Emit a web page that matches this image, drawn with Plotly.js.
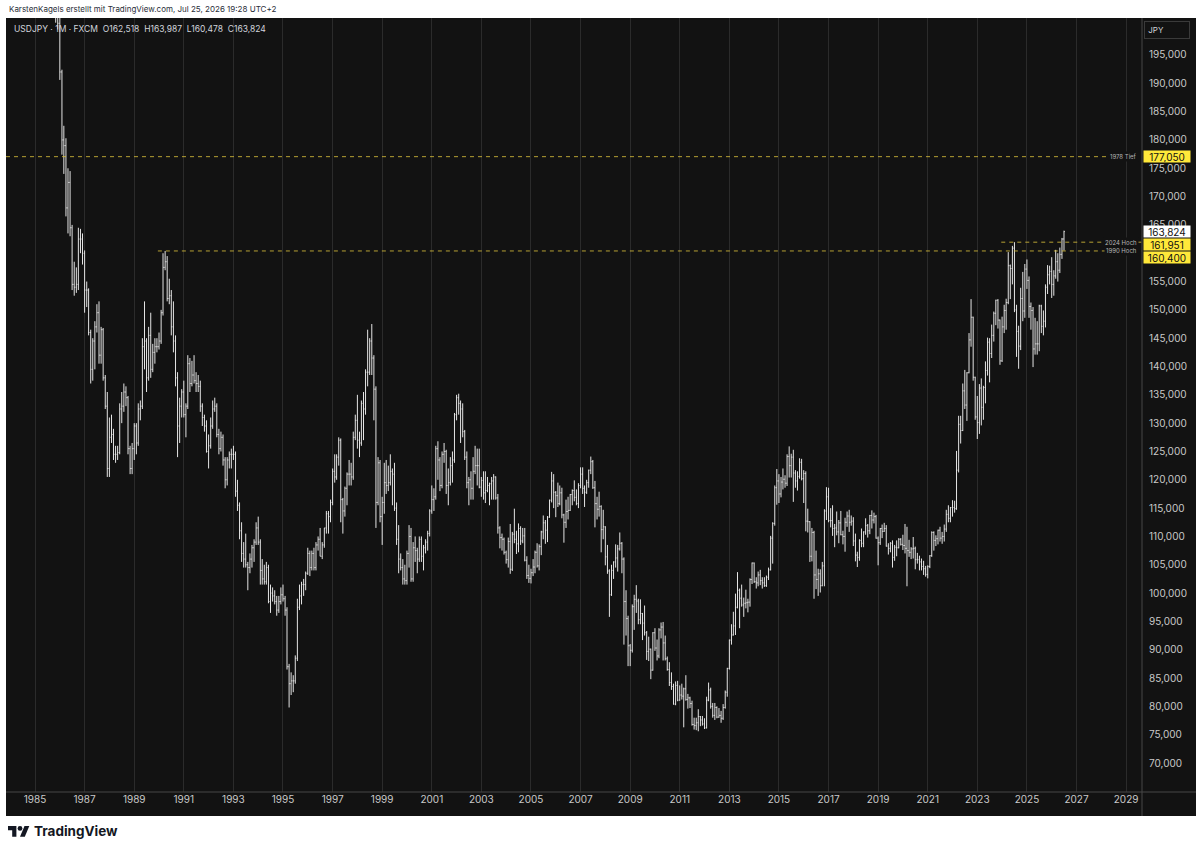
<!DOCTYPE html>
<html><head><meta charset="utf-8">
<script src="https://cdn.plot.ly/plotly-3.0.1.min.js"></script>
<style>html,body{margin:0;padding:0;background:#fff;}#chart{width:1200px;height:853px;}</style>
</head><body><div id="chart"></div>
<script>
// ---------- DATA (monthly USDJPY, first bar Nov 1985) ----------
const startYear = 1985, startMonth = 11;
const open = [
211.5,201.9,
200.6,192.0,180.0,179.0,168.0,172.5,164.5,154.5,154.0,154.5,162.5,162.5,
160.0,153.5,153.5,146.0,139.5,144.5,147.0,149.5,142.0,146.5,138.0,133.0,
122.0,127.5,128.0,124.5,124.5,124.8,132.5,133.0,135.5,134.5,125.5,122.0,
125.5,129.5,126.5,132.5,133.0,143.5,144.5,138.0,145.5,139.5,142.5,143.5,
143.5,144.5,149.5,157.5,158.5,152.0,152.5,147.0,144.5,138.0,129.5,133.0,
135.5,131.5,133.0,140.5,137.0,138.5,137.5,137.0,136.5,133.0,131.0,129.5,
125.0,126.0,129.5,132.5,133.0,128.0,125.5,127.5,123.5,120.0,123.5,124.5,
124.5,124.5,118.0,115.5,111.0,107.0,106.0,105.0,104.5,106.0,108.0,109.0,
111.5,109.0,104.0,102.5,102.0,104.5,98.5,100.0,99.5,98.5,97.0,98.5,
99.7,99.0,97.0,87.0,84.0,84.5,84.5,88.5,97.5,99.5,101.5,101.5,
103.5,107.0,104.5,107.0,104.5,108.5,109.5,106.5,108.5,111.5,114.0,113.5,
116.0,121.5,120.5,124.0,127.0,116.5,114.5,118.5,121.0,121.0,120.5,127.5,
130.5,127.0,126.5,133.5,132.5,139.0,139.0,144.5,141.5,136.0,116.0,123.0,
113.5,116.0,119.5,119.0,119.5,121.5,121.0,115.0,109.5,106.0,104.5,102.5,
102.2,107.0,110.0,102.5,108.0,107.5,106.0,109.5,106.5,108.0,109.0,110.5,
114.5,116.5,117.0,125.5,123.5,119.0,124.5,125.0,119.0,119.5,122.5,123.5,
131.5,134.5,133.5,132.5,128.5,124.0,119.5,120.0,118.5,121.5,122.5,122.5,
118.7,119.9,117.7,118.1,119.0,119.3,119.8,120.5,116.8,111.5,109.8,109.5,
107.2,105.9,109.1,104.2,110.4,109.5,108.7,111.4,109.2,110.1,105.8,103.1,
102.6,103.6,104.6,107.2,104.8,108.2,110.8,112.4,111.1,113.4,116.4,119.8,
117.8,117.2,115.8,117.7,113.8,112.5,114.4,114.6,117.4,118.1,116.9,115.8,
119.0,121.0,118.5,117.8,119.5,121.7,123.2,118.6,115.8,114.8,115.3,111.2,
111.7,106.4,103.9,99.7,104.0,105.5,106.2,107.8,108.8,106.0,98.5,95.5,
90.7,89.9,97.6,98.9,98.6,95.3,96.4,94.7,93.0,89.7,90.1,86.4,
93.0,90.3,88.9,93.5,94.0,91.2,88.4,86.5,84.2,83.5,80.4,83.7,
81.1,82.0,81.8,83.1,81.2,81.5,80.5,76.8,76.6,77.1,78.2,77.6,
76.9,76.2,81.1,82.9,80.0,78.4,79.8,78.1,78.4,77.9,79.8,82.5,
86.7,91.7,92.6,94.2,97.5,100.5,99.1,97.9,98.2,98.3,98.4,102.4,
105.3,102.0,101.8,103.2,102.2,101.8,101.3,102.8,104.1,109.7,112.3,118.6,
119.8,117.5,119.6,120.1,119.4,124.1,122.5,124.0,121.2,119.8,120.6,123.1,
120.2,121.1,112.7,112.6,106.5,110.7,103.2,102.4,103.4,101.3,104.8,114.5,
117.0,112.8,112.8,111.4,111.5,110.8,112.4,110.3,110.0,112.5,113.6,112.5,
112.7,109.2,106.7,106.3,109.3,108.8,110.8,111.9,111.0,113.7,112.9,113.5,
109.7,108.9,111.4,110.9,111.4,108.3,107.9,108.8,106.3,108.1,108.0,109.5,
108.6,108.4,107.9,107.5,107.2,107.8,107.9,105.9,105.9,105.5,104.7,104.3,
103.3,104.7,106.6,110.7,109.3,109.6,111.1,109.7,110.0,111.3,113.9,113.2,
115.1,115.1,114.9,121.7,129.8,128.7,135.7,133.2,138.9,144.7,148.7,138.1,
131.1,130.1,136.2,132.8,136.3,139.3,144.3,142.3,145.5,149.4,151.7,148.2,
141.0,147.0,149.9,151.3,157.8,157.3,160.9,150.0,146.2,143.6,152.0,149.8,
157.2,155.2,150.6,149.9,143.1,144.0,144.0,150.7,147.1,148.0,154.0,156.2,
156.8,154.5,156.0,158.5,157.0,159.8,162.518
];
const high = [
212.0,204.2,
203.0,192.4,182.5,180.3,175.0,174.5,165.0,158.5,157.5,164.5,164.3,163.5,
160.5,155.0,153.8,146.5,145.0,148.0,151.0,151.5,147.0,146.8,138.5,135.5,
131.0,131.5,129.0,126.0,126.0,133.5,135.5,137.0,136.5,134.8,126.0,126.5,
130.0,130.0,133.5,134.0,145.0,151.5,145.0,147.0,149.5,144.0,145.0,145.0,
146.0,150.0,160.0,160.4,159.5,155.5,153.5,151.5,145.5,139.0,134.5,136.0,
137.5,133.5,142.0,141.5,141.0,142.0,139.0,138.5,137.5,133.5,131.5,130.5,
128.0,131.0,134.0,134.5,133.5,129.0,128.5,128.0,124.0,124.0,125.0,125.5,
126.0,125.0,120.0,116.0,112.5,109.0,110.5,105.5,107.0,108.5,109.5,112.5,
113.5,109.5,106.0,105.0,105.5,105.0,101.5,101.0,100.5,99.5,99.5,101.0,
101.5,99.5,97.5,87.5,86.0,85.5,89.0,99.0,101.5,102.0,102.5,103.8,
108.0,107.5,107.5,108.0,109.0,110.0,111.5,109.0,111.5,114.5,114.5,116.5,
122.0,124.5,124.5,127.5,127.3,116.8,118.8,121.3,123.5,123.0,128.5,131.5,
135.0,128.5,134.0,135.5,139.5,146.5,145.0,147.5,142.0,136.5,124.0,123.5,
117.0,123.0,123.5,122.5,124.5,122.0,123.0,116.0,112.0,107.0,106.0,105.0,
107.5,112.0,111.5,109.0,110.0,108.0,110.0,110.0,108.5,109.5,111.0,114.8,
119.0,118.5,126.0,126.8,124.0,125.0,126.5,125.3,122.0,124.0,125.0,131.8,
135.0,135.2,134.0,133.5,128.8,125.0,120.5,121.5,124.0,126.0,125.5,125.5,
120.5,121.5,121.5,120.5,119.5,120.5,121.0,120.6,117.5,111.8,110.5,109.8,
107.5,109.8,112.2,110.8,114.9,111.0,112.3,111.8,111.5,111.5,106.5,105.0,
104.3,106.0,107.5,108.8,108.6,111.0,113.7,112.9,113.6,116.5,121.4,121.0,
118.0,119.5,119.0,118.6,114.0,116.5,117.0,117.5,118.3,119.9,118.3,119.4,
122.2,122.2,119.0,120.0,121.8,124.1,123.5,119.8,117.0,117.9,115.5,114.7,
111.8,108.5,104.2,105.0,105.6,108.6,108.5,110.7,109.0,106.3,100.5,96.0,
91.0,98.0,99.7,101.4,99.0,98.9,96.5,97.8,93.3,92.3,90.2,93.1,
93.8,91.8,93.8,94.8,94.9,92.5,88.8,87.8,86.0,84.0,84.4,84.5,
83.7,84.0,83.3,85.5,82.2,81.7,81.0,78.0,78.0,79.5,78.3,78.3,
77.9,81.7,84.2,83.3,80.6,80.6,80.0,79.7,79.2,80.4,82.8,86.8,
91.8,94.5,96.7,99.9,103.7,100.8,101.5,99.2,100.6,99.0,102.6,105.4,
105.4,102.8,103.8,104.1,102.8,102.8,103.1,104.5,110.1,112.5,119.0,121.9,
121.0,120.5,122.0,120.8,124.5,125.9,124.6,125.3,121.7,121.5,123.8,123.7,
121.7,121.5,114.9,112.7,111.5,111.0,107.5,104.3,104.2,105.5,114.8,118.7,
118.6,115.0,115.5,112.2,114.4,112.9,114.5,111.0,113.3,114.4,114.7,113.7,
113.4,110.5,107.3,109.5,111.4,110.9,113.2,112.2,113.8,114.6,114.2,113.8,
110.0,111.5,112.1,112.4,112.0,108.8,109.0,109.3,108.5,109.3,109.7,109.7,
110.3,112.2,111.7,109.4,108.1,109.9,108.2,107.1,106.6,106.1,105.7,104.8,
104.9,106.7,110.9,110.9,110.2,111.2,111.7,110.8,112.1,114.7,115.5,115.2,
116.4,116.3,125.1,131.3,131.3,137.0,139.4,139.0,145.9,151.9,148.8,138.2,
134.8,136.9,137.9,136.6,140.9,145.1,145.0,147.4,149.7,151.8,151.9,148.3,
148.8,150.9,151.97,160.2,158.0,161.3,161.95,150.9,147.2,153.9,156.7,158.1,
158.9,155.9,151.3,150.5,148.6,148.0,150.9,150.9,149.9,154.5,157.9,157.8,
159.3,157.0,160.6,160.0,161.0,162.7,163.987
];
const low = [
200.7,199.5,
190.6,177.4,174.0,166.5,163.5,163.0,153.5,152.5,153.0,153.5,160.0,158.0,
149.5,150.5,145.5,137.0,137.5,139.5,146.0,140.5,140.5,137.5,132.5,120.5,
120.5,126.5,123.5,123.0,123.5,124.5,130.0,132.0,133.0,124.5,121.0,121.0,
123.5,124.5,126.0,130.5,132.5,139.5,135.5,137.5,138.0,139.0,140.5,142.5,
143.0,144.0,149.0,157.0,151.5,151.0,145.5,142.5,136.5,124.0,126.5,131.0,
131.0,127.5,132.5,135.5,136.5,137.0,135.5,135.5,132.0,129.5,128.5,124.8,
122.0,125.5,129.0,132.0,127.5,124.5,125.0,122.5,118.5,119.0,122.0,122.0,
123.5,117.0,114.5,109.5,105.5,104.5,104.5,100.5,103.5,104.5,105.5,108.5,
108.5,101.5,101.5,101.5,101.5,98.2,96.5,98.5,98.0,96.0,96.5,98.0,
98.5,96.0,86.5,79.8,82.0,82.5,84.0,88.0,97.0,98.0,99.5,100.5,
103.2,103.0,104.0,104.0,104.0,107.5,106.5,106.0,108.0,110.5,110.5,112.5,
115.5,119.5,120.0,122.5,112.5,110.5,113.5,115.5,119.0,119.0,120.0,127.0,
125.5,124.0,126.0,127.0,131.5,136.5,138.5,138.5,130.5,111.5,115.5,112.5,
108.5,114.0,117.5,118.0,119.0,115.5,114.5,108.5,103.5,104.0,101.5,101.5,
101.5,104.5,102.0,102.0,105.5,103.5,105.5,105.5,104.0,107.0,107.5,110.0,
114.0,114.5,116.5,120.0,118.0,118.5,123.0,117.5,115.5,119.0,119.5,123.0,
130.5,131.5,126.5,127.5,123.5,118.5,115.5,116.5,116.5,121.0,119.0,118.5,
117.0,116.5,115.9,117.8,115.5,116.5,116.5,116.5,110.5,107.9,107.5,106.8,
105.2,104.5,103.4,103.9,108.8,106.9,107.2,108.5,108.8,105.6,102.5,101.8,
101.7,103.0,103.5,104.5,104.0,106.7,109.5,108.7,109.0,113.3,116.0,115.0,
113.4,115.2,115.5,113.2,108.9,111.5,113.0,114.5,115.5,116.2,115.5,115.0,
118.5,117.5,115.2,117.5,118.6,121.0,118.4,111.6,113.0,113.5,107.2,109.5,
104.9,103.4,95.8,99.5,102.5,104.5,103.8,107.5,103.5,90.9,92.5,87.1,
87.1,89.5,93.5,96.5,94.5,94.5,91.7,92.5,88.2,88.0,84.8,86.3,
89.8,88.1,88.5,92.0,88.1,88.1,86.3,83.6,82.9,80.3,80.2,80.9,
81.0,81.2,76.3,81.0,79.6,79.7,76.6,75.9,75.8,75.6,76.5,76.6,
76.0,76.1,80.9,79.6,78.0,77.6,77.9,78.0,77.1,77.6,79.6,81.7,
86.5,90.9,92.5,92.6,97.3,93.8,97.6,95.8,97.3,96.6,97.6,101.6,
101.8,100.8,101.2,101.4,100.8,101.1,101.1,102.3,104.0,105.2,111.9,115.6,
115.9,116.9,118.3,118.6,118.9,120.4,120.4,116.1,118.6,118.1,120.2,119.9,
115.9,110.9,110.7,105.5,105.6,99.0,100.7,99.5,100.1,101.2,101.2,112.9,
112.5,111.6,110.1,108.1,110.2,108.8,110.2,108.6,107.3,111.7,110.8,111.9,
108.3,105.6,104.6,105.7,108.1,108.1,110.3,109.8,110.4,111.4,112.3,109.6,
104.9,108.5,109.7,110.8,108.2,106.8,107.2,104.5,105.7,106.5,107.9,108.4,
107.6,107.0,101.2,106.4,106.0,106.1,104.2,105.2,104.0,104.0,103.2,102.9,
102.6,104.4,106.4,107.5,108.3,108.6,109.1,108.7,109.1,110.8,112.5,112.5,
113.5,114.2,114.7,121.3,126.4,128.6,132.5,130.4,138.8,143.5,137.5,130.6,
127.2,128.1,129.6,130.6,133.5,138.4,137.2,141.5,144.4,147.3,146.7,140.3,
140.8,145.9,146.5,151.0,151.9,154.5,149.6,141.7,139.6,142.9,148.0,148.6,
153.7,148.6,146.5,139.9,142.1,142.1,142.7,145.9,145.5,146.9,152.8,154.5,
152.1,152.5,155.5,155.0,156.5,159.0,160.478
];
const close = [
201.9,200.6,
192.0,180.0,179.0,168.0,172.5,164.5,154.5,154.0,154.5,162.5,162.5,160.0,
153.5,153.5,146.0,139.5,144.5,147.0,149.5,142.0,146.5,138.0,133.0,122.0,
127.5,128.0,124.5,124.5,124.8,132.5,133.0,135.5,134.5,125.5,122.0,125.5,
129.5,126.5,132.5,133.0,143.5,144.5,138.0,145.5,139.5,142.5,143.5,143.5,
144.5,149.5,157.5,158.5,152.0,152.5,147.0,144.5,138.0,129.5,133.0,135.5,
131.5,133.0,140.5,137.0,138.5,137.5,137.0,136.5,133.0,131.0,129.5,125.0,
126.0,129.5,132.5,133.0,128.0,125.5,127.5,123.5,120.0,123.5,124.5,124.5,
124.5,118.0,115.5,111.0,107.0,106.0,105.0,104.5,106.0,108.0,109.0,111.5,
109.0,104.0,102.5,102.0,104.5,98.5,100.0,99.5,98.5,97.0,98.5,99.7,
99.0,97.0,87.0,84.0,84.5,84.5,88.5,97.5,99.5,101.5,101.5,103.5,
107.0,104.5,107.0,104.5,108.5,109.5,106.5,108.5,111.5,114.0,113.5,116.0,
121.5,120.5,124.0,127.0,116.5,114.5,118.5,121.0,121.0,120.5,127.5,130.5,
127.0,126.5,133.5,132.5,139.0,139.0,144.5,141.5,136.0,116.0,123.0,113.5,
116.0,119.5,119.0,119.5,121.5,121.0,115.0,109.5,106.0,104.5,102.5,102.2,
107.0,110.0,102.5,108.0,107.5,106.0,109.5,106.5,108.0,109.0,110.5,114.5,
116.5,117.0,125.5,123.5,119.0,124.5,125.0,119.0,119.5,122.5,123.5,131.5,
134.5,133.5,132.5,128.5,124.0,119.5,120.0,118.5,121.5,122.5,122.5,118.7,
119.9,117.7,118.1,119.0,119.3,119.8,120.5,116.8,111.5,109.8,109.5,107.2,
105.9,109.1,104.2,110.4,109.5,108.7,111.4,109.2,110.1,105.8,103.1,102.6,
103.6,104.6,107.2,104.8,108.2,110.8,112.4,111.1,113.4,116.4,119.8,117.8,
117.2,115.8,117.7,113.8,112.5,114.4,114.6,117.4,118.1,116.9,115.8,119.0,
121.0,118.5,117.8,119.5,121.7,123.2,118.6,115.8,114.8,115.3,111.2,111.7,
106.4,103.9,99.7,104.0,105.5,106.2,107.8,108.8,106.0,98.5,95.5,90.7,
89.9,97.6,98.9,98.6,95.3,96.4,94.7,93.0,89.7,90.1,86.4,93.0,
90.3,88.9,93.5,94.0,91.2,88.4,86.5,84.2,83.5,80.4,83.7,81.1,
82.0,81.8,83.1,81.2,81.5,80.5,76.8,76.6,77.1,78.2,77.6,76.9,
76.2,81.1,82.9,80.0,78.4,79.8,78.1,78.4,77.9,79.8,82.5,86.7,
91.7,92.6,94.2,97.5,100.5,99.1,97.9,98.2,98.3,98.4,102.4,105.3,
102.0,101.8,103.2,102.2,101.8,101.3,102.8,104.1,109.7,112.3,118.6,119.8,
117.5,119.6,120.1,119.4,124.1,122.5,124.0,121.2,119.8,120.6,123.1,120.2,
121.1,112.7,112.6,106.5,110.7,103.2,102.4,103.4,101.3,104.8,114.5,117.0,
112.8,112.8,111.4,111.5,110.8,112.4,110.3,110.0,112.5,113.6,112.5,112.7,
109.2,106.7,106.3,109.3,108.8,110.8,111.9,111.0,113.7,112.9,113.5,109.7,
108.9,111.4,110.9,111.4,108.3,107.9,108.8,106.3,108.1,108.0,109.5,108.6,
108.4,107.9,107.5,107.2,107.8,107.9,105.9,105.9,105.5,104.7,104.3,103.3,
104.7,106.6,110.7,109.3,109.6,111.1,109.7,110.0,111.3,113.9,113.2,115.1,
115.1,114.9,121.7,129.8,128.7,135.7,133.2,138.9,144.7,148.7,138.1,131.1,
130.1,136.2,132.8,136.3,139.3,144.3,142.3,145.5,149.4,151.7,148.2,141.0,
147.0,149.9,151.3,157.8,157.3,160.9,150.0,146.2,143.6,152.0,149.8,157.2,
155.2,150.6,149.9,143.1,144.0,144.0,150.7,147.1,148.0,154.0,156.2,156.8,
154.5,156.0,158.5,157.0,159.8,162.5,163.824
];

const xTickYears = [1985,1987,1989,1991,1993,1995,1997,1999,2001,2003,2005,2007,2009,2011,2013,2015,2017,2019,2021,2023,2025,2027,2029];
const xTickText = ['1985','1987','1989','1991','1993','1995','1997','1999','2001','2003','2005','2007','2009','2011','2013','2015','2017','2019','2021','2023','2025','2027','2029'];
const yTickVals = [70,75,80,85,90,95,100,105,110,115,120,125,130,135,140,145,150,155,160,165,170,175,180,185,190,195];
// 160,000 is fully hidden behind the price tags in the reference
const yTickText = ['70,000','75,000','80,000','85,000','90,000','95,000','100,000','105,000','110,000','115,000','120,000','125,000','130,000','135,000','140,000','145,000','150,000','155,000','','165,000','170,000','175,000','180,000','185,000','190,000','195,000'];

const levelNames  = ['1978 Tief','2024 Hoch','1990 Hoch'];
const levelValues = [177.05, 161.951, 160.4];
const levelStart  = [null, '2023-12-20', '1989-12-15'];
const levelTags   = ['177,050','161,951','160,400'];
const lastPrice = 163.824, lastPriceTag = '163,824';
const headerText = 'USDJPY · 1M · FXCM\u00a0\u00a0O162,518\u00a0\u00a0H163,987\u00a0\u00a0L160,478\u00a0\u00a0C163,824';
const creditText = 'KarstenKagels erstellt mit TradingView.com, Jul 25, 2026 19:28 UTC+2';

// ---------- build ----------
const dates = open.map((_, i) => {
  const k = startMonth - 1 + i;
  const y = startYear + Math.floor(k / 12), m = k % 12 + 1;
  return y + '-' + String(m).padStart(2, '0') + '-01';
});
const xTickVals = xTickYears.map(y => y + '-01-01');

const L = 6, R = 1142, T = 18, B = 792;      // plot area in pixels
const PX = x => (x - L) / (R - L);
const PY = y => (B - y) / (B - T);
const FONT = 'Inter, "Noto Sans", Roboto, sans-serif';
const X_END = '2029-08-23';
const PANEL = '#121212';

const trace = {
  type: 'ohlc', x: dates, open: open, high: high, low: low, close: close,
  increasing: {line: {color: '#e4e4e4', width: 1}},
  decreasing: {line: {color: '#e4e4e4', width: 1}},
  tickwidth: 0.4, hoverinfo: 'skip'
};

const shapes = [
  {type:'rect', xref:'paper', yref:'paper', x0:PX(6), x1:PX(1196), y0:PY(816), y1:PY(18),
   fillcolor:PANEL, line:{width:0}, layer:'below'},
  {type:'line', xref:'paper', yref:'paper', x0:PX(6), x1:PX(1196), y0:PY(792), y1:PY(792),
   line:{color:'#474747', width:1}},
  {type:'line', xref:'paper', yref:'paper', x0:PX(1142), x1:PX(1142), y0:PY(18), y1:PY(816),
   line:{color:'#474747', width:1}}
];
const lineColor = 'rgba(222,196,60,0.8)';
levelValues.forEach((v, i) => {
  if (levelStart[i] === null) {
    shapes.push({type:'line', xref:'paper', yref:'y', x0:0, x1:1, y0:v, y1:v,
      line:{color:lineColor, width:1, dash:'4px,4px'}});
  } else {
    shapes.push({type:'line', xref:'x', yref:'y', x0:levelStart[i], x1:X_END, y0:v, y1:v,
      line:{color:lineColor, width:1, dash:'4px,4px'}});
  }
});

// TradingView logo (icon)
const s = 0.6, ox = 8, oy = 826;
const lp = pts => 'M ' + pts.map(p => PX(ox + p[0]*s) + ',' + PY(oy + (p[1]-4)*s)).join(' L ') + ' Z';
shapes.push({type:'path', xref:'paper', yref:'paper', path: lp([[14,22],[7,22],[7,11],[0,11],[0,4],[14,4]]),
  fillcolor:'#131722', line:{width:0}});
shapes.push({type:'path', xref:'paper', yref:'paper', path: lp([[28,22],[20,22],[27.5,4],[35.5,4]]),
  fillcolor:'#131722', line:{width:0}});
shapes.push({type:'circle', xref:'paper', yref:'paper',
  x0:PX(ox+16*s), x1:PX(ox+24*s), y0:PY(oy+8*s), y1:PY(oy), fillcolor:'#131722', line:{width:0}});

const annotations = [
  {xref:'paper', yref:'paper', x:PX(7), y:PY(9), xanchor:'left', yanchor:'middle', showarrow:false,
   text:creditText, font:{family:FONT, size:8, color:'#2a2e39'}},
  {xref:'paper', yref:'paper', x:PX(12), y:PY(29), xanchor:'left', yanchor:'middle', showarrow:false,
   text:headerText, font:{family:FONT, size:8.5, color:'#d1d4dc'}},
  {xref:'paper', yref:'paper', x:PX(1144), y:PY(30), xanchor:'left', yanchor:'middle', showarrow:false,
   text:'\u00a0JPY', align:'left', width:42, height:14, bgcolor:PANEL, bordercolor:'#3a3a3a', borderwidth:1, borderpad:1,
   font:{family:FONT, size:8, color:'#d1d4dc'}},
  {xref:'paper', yref:'paper', x:PX(32), y:PY(831), xanchor:'left', yanchor:'middle', showarrow:false,
   text:'<b>TradingView</b>', font:{family:FONT, size:13.5, color:'#131722'}}
];
const tagShift = [0, -2, -7];
const tagColor = '#ffe83a';
levelValues.forEach((v, i) => {
  annotations.push({xref:'paper', yref:'y', x:PX(1139), y:v, xanchor:'right', yanchor:'middle', showarrow:false,
    text:levelNames[i], bgcolor:PANEL, borderpad:1, font:{family:FONT, size:6, color:'#b5b5b5'}});
  annotations.push({xref:'paper', yref:'y', x:PX(1143), y:v, yshift:tagShift[i], xanchor:'left', yanchor:'middle',
    showarrow:false, text:levelTags[i], width:46, height:11, align:'center', bgcolor:tagColor, borderpad:0,
    font:{family:FONT, size:10, color:'#111111'}});
});
annotations.push({xref:'paper', yref:'y', x:PX(1143), y:lastPrice, xanchor:'left', yanchor:'middle',
  showarrow:false, text:lastPriceTag, width:46, height:11, align:'center', bgcolor:'#ffffff', borderpad:0,
  font:{family:FONT, size:10, color:'#111111'}});

const layout = {
  width:1200, height:853,
  margin:{l:L, r:1200-R, t:T, b:853-B, pad:0},
  paper_bgcolor:'#ffffff', plot_bgcolor:PANEL,
  showlegend:false,
  font:{family:FONT, size:10, color:'#c9c9c9'},
  xaxis:{type:'date', range:['1983-10-31', X_END], rangeslider:{visible:false},
    tickmode:'array', tickvals:xTickVals, ticktext:xTickText,
    showgrid:true, gridcolor:'#2b2b2b', gridwidth:1, showline:false, zeroline:false, ticks:'',
    tickfont:{family:FONT, size:10, color:'#c9c9c9'}, fixedrange:true},
  yaxis:{side:'right', range:[64.88, 201.53], tickmode:'array', tickvals:yTickVals, ticktext:yTickText,
    showgrid:false, showline:false, zeroline:false, ticks:'', ticklabelstandoff:6,
    tickfont:{family:FONT, size:10, color:'#c9c9c9'}, fixedrange:true},
  shapes:shapes, annotations:annotations
};

Plotly.newPlot('chart', [trace], layout, {staticPlot:true, displayModeBar:false});
</script>
</body></html>
